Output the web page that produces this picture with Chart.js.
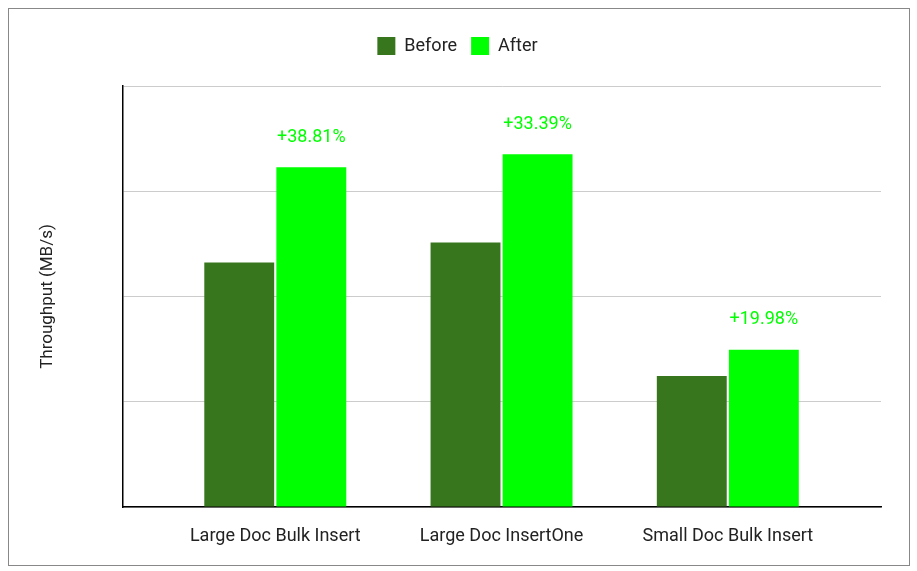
<!DOCTYPE html>
<html><head><meta charset="utf-8">
<script src="https://cdn.jsdelivr.net/npm/chart.js@4"></script>
<style>
body{margin:0;background:#fff;}
#box{position:absolute;left:8px;top:8px;width:900px;height:556px;border:1px solid #888;}
</style></head>
<body>
<div id="box"><canvas id="c"></canvas></div>
<script>
// values in gridline units (each gridline = 1)
const categories = ["Large Doc Bulk Insert", "Large Doc InsertOne", "Small Doc Bulk Insert"];
const before = [2.324, 2.514, 1.245];
const after = [3.229, 3.352, 1.495];
const gains = ["+38.81%", "+33.39%", "+19.98%"];

const gainLabels = {
  id: "gainLabels",
  afterDatasetsDraw(chart) {
    const ctx = chart.ctx;
    const meta = chart.getDatasetMeta(1);
    ctx.save();
    ctx.font = "18px Roboto";
    ctx.fillStyle = "#00ff00";
    ctx.textAlign = "center";
    ctx.textBaseline = "middle";
    meta.data.forEach((bar, i) => {
      ctx.fillText(gains[i], bar.x, bar.y - 30);
    });
    ctx.restore();
  }
};

const legendSpace = {
  id: "legendSpace",
  beforeInit(chart) {
    const fit = chart.legend.fit;
    chart.legend.fit = function () { fit.call(this); this.height += 21; };
  }
};

new Chart(document.getElementById("c"), {
  type: "bar",
  data: {
    datasets: [
      { label: "Before", data: before.map((v, i) => ({ x: i, y: v })), backgroundColor: "#38761d" },
      { label: "After", data: after.map((v, i) => ({ x: i, y: v })), backgroundColor: "#00ff00" }
    ]
  },
  options: {
    responsive: true,
    maintainAspectRatio: false,
    animation: false,
    layout: { padding: { top: 14, right: 28, left: 25, bottom: 0 } },
    datasets: { bar: { categoryPercentage: 0.637, barPercentage: 0.97 } },
    plugins: {
      legend: {
        labels: { font: { family: "Roboto", size: 18 }, color: "#222", boxWidth: 18, boxHeight: 18, padding: 14 }
      },
      tooltip: { enabled: false }
    },
    scales: {
      x: {
        type: "linear",
        min: -0.673, max: 2.677,
        offset: false,
        grid: { display: false },
        border: { color: "#000", width: 1.5 },
        ticks: {
          font: { family: "Roboto", size: 18 }, color: "#222", padding: 11,
          callback: v => categories[v]
        },
        afterBuildTicks(s) { s.ticks = categories.map((c, i) => ({ value: i })); },
        afterFit(s) { s.height = 58; }
      },
      y: {
        min: 0, max: 4,
        ticks: { display: false, stepSize: 1 },
        grid: { color: "#ccc", drawTicks: false },
        border: { color: "#000", width: 1.5 },
        title: { display: true, text: "Throughput (MB/s)", font: { family: "Roboto", size: 17 }, color: "#222" },
        afterFit(s) { s.width = 89; }
      }
    }
  },
  plugins: [gainLabels, legendSpace]
});
</script>
</body></html>
